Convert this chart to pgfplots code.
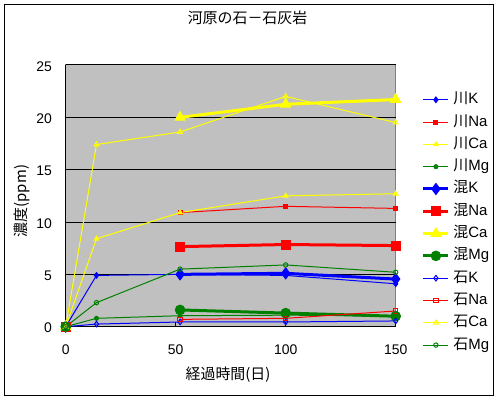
\documentclass[border=0pt]{standalone}
\usepackage{fontspec}
\setmainfont{Liberation Sans}
\newfontfamily\jp{Noto Sans CJK JP}
\usepackage{pgfplots}
\pgfplotsset{compat=1.18}
\definecolor{xlblue}{RGB}{0,0,255}
\definecolor{xlred}{RGB}{255,0,0}
\definecolor{xlyellow}{RGB}{255,255,0}
\definecolor{xlgreen}{RGB}{0,128,0}
\definecolor{xlgray}{RGB}{192,192,192}
\definecolor{xlborder}{RGB}{128,128,128}
\begin{document}
\begin{tikzpicture}
\useasboundingbox (0,0) rectangle (500bp,400bp);
\draw[line width=1bp] (4.5bp,4.5bp) rectangle (493bp,395.5bp);
\begin{axis}[
  at={(65.7bp,73.3bp)}, anchor=south west,
  scale only axis, width=330bp, height=261.7bp,
  xmin=0, xmax=150, ymin=0, ymax=25,
  xtick={0,50,100,150}, ytick={0,5,10,15,20,25},
  axis lines=left, x axis line style={-}, y axis line style={-},
  axis line style={black, line width=1bp},
  axis background/.style={fill=xlgray, draw=xlborder, line width=1bp},
  ymajorgrids, major grid style={black, line width=1bp},
  tick align=inside, major tick length=4.5bp, tick style={black, line width=1bp},
  clip=false,
  unbounded coords=jump,
  /pgf/number format/assume math mode=true,
  ticklabel style={font=\fontsize{14}{14}\selectfont, inner sep=0pt},
  yticklabel style={anchor=east, xshift=-13.5bp, yshift=-1.3bp},
  xticklabel style={anchor=north, yshift=-18bp},
  title={\jp 河原の石－石灰岩},
  title style={at={(0.551,1.157)}, anchor=center, inner sep=0pt, font=\fontsize{15}{15}\selectfont},
  xlabel={\jp 経過時間(日)},
  xlabel style={at={(0.492,-0.185)}, anchor=center, inner sep=0pt, font=\fontsize{15}{15}\selectfont},
  ylabel={\jp 濃度(ppm)},
  ylabel style={at={(-0.132,0.48)}, anchor=center, inner sep=0pt, font=\fontsize{15}{15}\selectfont},
  legend style={at={(1.0788,0.8946)}, anchor=north west, draw=none, fill=none, inner sep=0pt,
    row sep=8.3bp, column sep=3.5bp, font=\fontsize{15}{15}\selectfont,
    nodes={inner sep=0pt, text height=11bp, text depth=3bp}},
  legend cell align=left,
  legend image code/.code={\draw[mark repeat=2,mark phase=2] plot coordinates {(0bp,0bp) (12.5bp,0bp) (25bp,0bp)};},
]
% 川
\addplot[xlblue, line width=1bp, mark=diamond*, mark size=2.8] coordinates {(0,0) (14,4.9) (52,5.0) (100,4.9) (150,4.1)};
\addplot[xlred, line width=1bp, mark=square*, mark size=2] coordinates {(0,0) (14,nan) (52,10.9) (100,11.5) (150,11.3)};
\addplot[xlyellow, line width=1bp, mark=triangle*, mark size=2.6] coordinates {(0,0) (14,8.4) (52,10.9) (100,12.5) (150,12.7)};
\addplot[xlgreen, line width=1bp, mark=*, mark size=2] coordinates {(0,0) (14,0.8) (52,1.05) (100,1.1) (150,1.05)};
% 混
\addplot[xlblue, line width=3bp, mark=diamond*, mark size=5.5, mark options={line width=1bp}] coordinates {(0,0) (14,nan) (52,5.0) (100,5.1) (150,4.55)};
\addplot[xlred, line width=3bp, mark=square*, mark size=4.5, mark options={line width=1bp}] coordinates {(0,0) (14,nan) (52,7.65) (100,7.85) (150,7.75)};
\addplot[xlyellow, line width=3bp, mark=triangle*, mark size=5.8, mark options={line width=1bp}] coordinates {(0,0) (14,nan) (52,20.0) (100,21.25) (150,21.7)};
\addplot[xlgreen, line width=3bp, mark=*, mark size=4.8, mark options={line width=1bp}] coordinates {(0,0) (14,nan) (52,1.6) (100,1.3) (150,1.0)};
% 石
\addplot[xlblue, line width=1bp, mark=diamond, mark size=2.8] coordinates {(0,0) (14,0.25) (52,0.45) (100,0.45) (150,0.55)};
\addplot[xlred, line width=1bp, mark=square, mark size=2.2] coordinates {(0,0) (14,nan) (52,0.7) (100,0.8) (150,1.5)};
\addplot[xlyellow, line width=1bp, mark=triangle, mark size=2.8] coordinates {(0,0) (14,17.4) (52,18.6) (100,22.0) (150,19.5)};
\addplot[xlgreen, line width=1bp, mark=o, mark size=2.2] coordinates {(0,0) (14,2.3) (52,5.5) (100,5.9) (150,5.2)};
\legend{{\jp 川}K,{\jp 川}Na,{\jp 川}Ca,{\jp 川}Mg,{\jp 混}K,{\jp 混}Na,{\jp 混}Ca,{\jp 混}Mg,{\jp 石}K,{\jp 石}Na,{\jp 石}Ca,{\jp 石}Mg}
\end{axis}
\end{tikzpicture}
\end{document}
